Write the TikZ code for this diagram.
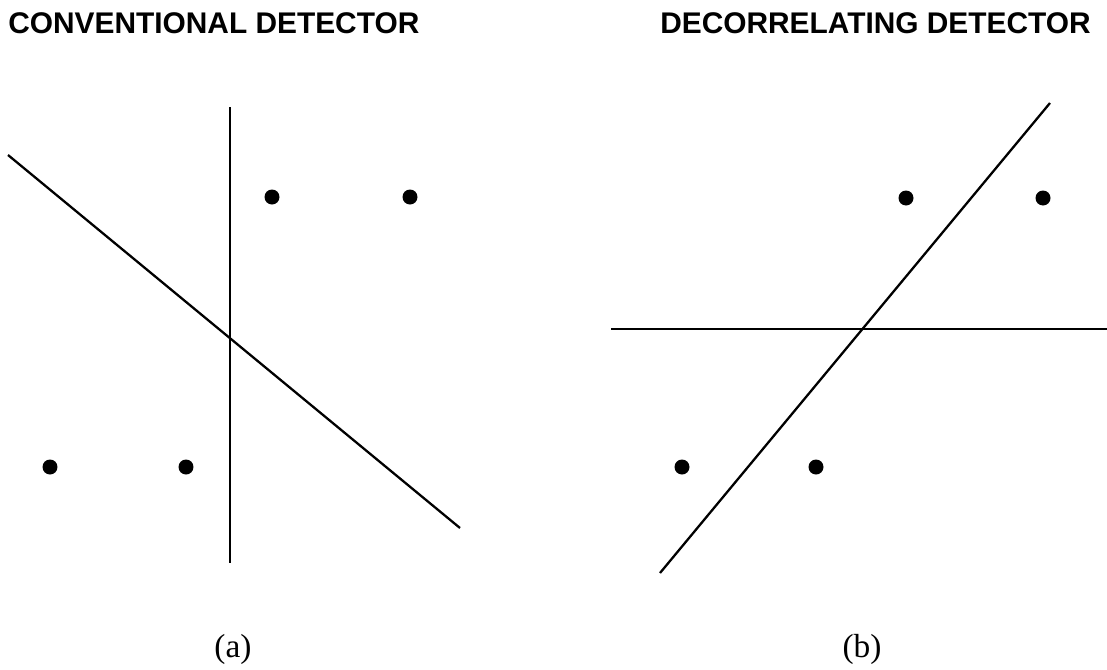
\documentclass[tikz,border=0pt]{standalone}
\usepackage{fontspec}
\setmainfont{Liberation Serif}
\newfontfamily\headfont{Liberation Sans}
\usepackage{tikz}
\usetikzlibrary{positioning,calc}

\begin{document}
\begin{tikzpicture}[x=0.02cm, y=-0.02cm,
  pt/.style={circle, fill=black, inner sep=0pt, minimum size=0.3cm},
  bnd/.style={line width=1.3pt, black},
  ttl/.style={font=\headfont\bfseries\fontsize{17}{19}\selectfont, inner sep=0pt, anchor=base west},
  sublbl/.style={font=\fontsize{19}{22}\selectfont, inner sep=0pt, anchor=base},
]
\useasboundingbox (0,0) rectangle (1107,670);
% titles
\node[ttl] (tA) at (8,33) {CONVENTIONAL DETECTOR};
\node[ttl, anchor=base east] (tB) at (1091,33) {DECORRELATING DETECTOR};
% (a) conventional
\coordinate (vT) at (230,107);
\coordinate (vB) at (230,563);
\coordinate (dT) at (8,155);
\coordinate (dB) at (460,528);
\draw[bnd] (vT) -- (vB);
\draw[bnd] (dT) -- (dB);
\node[pt] (a1) at (272,197) {};
\node[pt] (a2) at (410,197) {};
\node[pt] (a3) at (50,467) {};
\node[pt] (a4) at (186,467) {};
% (b) decorrelating
\coordinate (hL) at (611,329);
\coordinate (hR) at (1107,329);
\coordinate (sB) at (660,573);
\coordinate (sT) at (1050,103);
\draw[bnd] (hL) -- (hR);
\draw[bnd] (sB) -- (sT);
\node[pt] (b1) at (906,198) {};
\node[pt] (b2) at (1043,198) {};
\node[pt] (b3) at (682,467) {};
\node[pt] (b4) at (816,467) {};
% captions
\node[sublbl] (capA) at (233,657) {(a)};
\node[sublbl] (capB) at (862,657) {(b)};
\end{tikzpicture}
\end{document}
